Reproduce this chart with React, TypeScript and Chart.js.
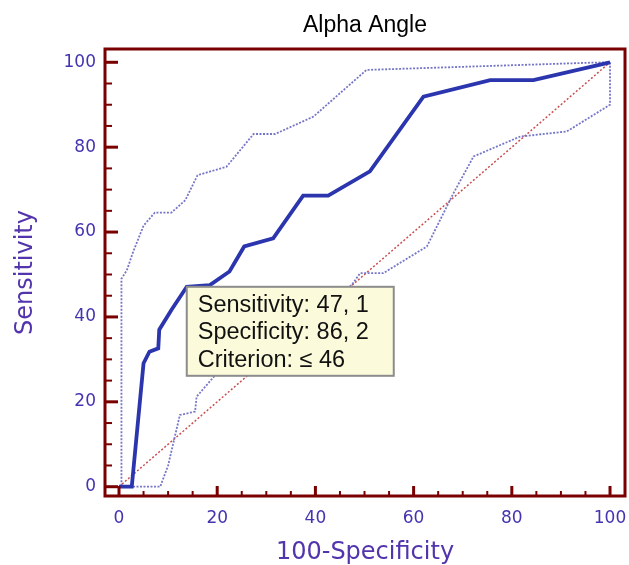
import React, { useEffect, useRef } from 'react';
import { Chart, registerables } from 'chart.js';

Chart.register(...registerables);

const chartTitle = 'Alpha Angle';
const xAxisTitle = '100-Specificity';
const yAxisTitle = 'Sensitivity';
const xTickValues = [0, 20, 40, 60, 80, 100];
const yTickValues = [0, 20, 40, 60, 80, 100];
const minorTickValues = [0, 5, 10, 15, 20, 25, 30, 35, 40, 45, 50, 55, 60, 65, 70, 75, 80, 85, 90, 95, 100];

// ROC curve (x = 100 - specificity, y = sensitivity)
const rocX = [0, 2.6, 5, 6.2, 8, 8.2, 10.7, 13.8, 18.5, 22.5, 25.5, 31.4, 37.5, 42.6, 51.1, 62, 75.6, 84.4, 100];
const rocY = [0, 0, 29.1, 31.8, 32.6, 37, 41.7, 47.1, 47.5, 50.7, 56.6, 58.5, 68.6, 68.6, 74.3, 91.9, 95.8, 95.8, 100];

// upper confidence bound
const upperX = [0, 0.5, 0.5, 1.6, 2.9, 5, 7.3, 10.7, 13.5, 16, 21.9, 27.4, 31.8, 39.6, 50.4, 96, 100];
const upperY = [0, 0, 49, 51, 55.4, 61.5, 64.6, 64.6, 67.5, 73.4, 75.4, 83.1, 83.1, 87.2, 98.2, 99.9, 100];

// lower confidence bound
const lowerX = [0, 8.4, 10, 12.4, 15.5, 15.8, 19.9, 47.4, 49.1, 53.8, 62.7, 68.1, 72.2, 81.7, 91.2, 100, 100];
const lowerY = [0, 0, 5, 16.9, 17.7, 21.2, 26.7, 47.5, 50.3, 50.3, 56.6, 69.1, 77.8, 82.5, 83.7, 90, 100];

// reference diagonal
const diagX = [0, 100];
const diagY = [0, 100];

// criterion box
const criterionX = 13.8;
const criterionY = 47.1;
const boxLines = ['Sensitivity: 47, 1', 'Specificity: 86, 2', 'Criterion: \u2264 46'];

const toPoints = (xs: number[], ys: number[]) => xs.map((x, i) => ({ x, y: ys[i] }));

const FRAME = '#7a0000';
const TICK_LABEL = '#4334b0';
const AXIS_TITLE = '#5234ac';

const rocPlugin = {
  id: 'rocDecor',
  afterDatasetsDraw(chart: any) {
    const { ctx, chartArea: a, scales } = chart;
    const x = scales.x;
    const y = scales.y;
    ctx.save();
    // criterion box
    const bx = x.getPixelForValue(criterionX);
    const by = y.getPixelForValue(criterionY);
    const bw = 207;
    const bh = 89;
    ctx.fillStyle = '#fbfbdc';
    ctx.fillRect(bx, by, bw, bh);
    ctx.strokeStyle = '#8c8c8c';
    ctx.lineWidth = 2;
    ctx.strokeRect(bx, by, bw, bh);
    ctx.fillStyle = '#111111';
    ctx.font = '23.5px "Liberation Sans", Arial, sans-serif';
    ctx.textBaseline = 'alphabetic';
    ctx.textAlign = 'left';
    boxLines.forEach((t, i) => ctx.fillText(t, bx + 11, by + 25 + i * 27.5));

    // frame
    ctx.strokeStyle = FRAME;
    ctx.lineWidth = 3;
    ctx.strokeRect(a.left, a.top, a.right - a.left, a.bottom - a.top);

    // inward tick marks
    ctx.lineCap = 'butt';
    minorTickValues.forEach((v) => {
      const major = v % 20 === 0;
      ctx.lineWidth = major ? 3 : 2;
      const px = x.getPixelForValue(v);
      ctx.beginPath();
      ctx.moveTo(px, a.bottom);
      ctx.lineTo(px, a.bottom - (major ? 10 : 5));
      ctx.stroke();
      const py = y.getPixelForValue(v);
      ctx.beginPath();
      ctx.moveTo(a.left, py);
      ctx.lineTo(a.left + (major ? 13 : 7), py);
      ctx.stroke();
    });
    ctx.restore();
  },
};

export default function App() {
  const canvasRef = useRef<HTMLCanvasElement | null>(null);

  useEffect(() => {
    if (!canvasRef.current) return;
    const chart = new Chart(canvasRef.current, {
      type: 'line',
      data: {
        datasets: [
          {
            label: 'ROC',
            data: toPoints(rocX, rocY),
            borderColor: '#2b35ad',
            borderWidth: 3.8,
            pointRadius: 0,
            tension: 0,
          },
          {
            label: 'Upper',
            data: toPoints(upperX, upperY),
            borderColor: '#7676c8',
            borderWidth: 1.8,
            borderDash: [2, 1.5],
            pointRadius: 0,
            tension: 0,
          },
          {
            label: 'Lower',
            data: toPoints(lowerX, lowerY),
            borderColor: '#7676c8',
            borderWidth: 1.8,
            borderDash: [2, 1.5],
            pointRadius: 0,
            tension: 0,
          },
          {
            label: 'Diagonal',
            data: toPoints(diagX, diagY),
            borderColor: '#c85050',
            borderWidth: 1.5,
            borderDash: [2, 2],
            pointRadius: 0,
            tension: 0,
          },
        ],
      },
      options: {
        animation: false,
        responsive: false,
        devicePixelRatio: 1,
        layout: { autoPadding: false, padding: { left: 0, right: 4, top: 0, bottom: 0 } },
        plugins: {
          legend: { display: false },
          tooltip: { enabled: false },
          title: {
            display: true,
            text: chartTitle,
            fullSize: false,
            color: '#000000',
            font: { family: '"Liberation Sans", Arial, sans-serif', size: 23, weight: 'normal', lineHeight: 1.2 },
            padding: { top: 12, bottom: 9.4 },
          },
        },
        scales: {
          x: {
            type: 'linear',
            min: -2.85,
            max: 103.05,
            afterBuildTicks: (scale: any) => {
              scale.ticks = xTickValues.map((v) => ({ value: v }));
            },
            afterFit: (scale: any) => {
              scale.height = 69;
              scale.paddingLeft = 0;
              scale.paddingRight = 0;
            },
            grid: { display: false, drawTicks: false },
            border: { display: false },
            ticks: {
              autoSkip: false,
              maxRotation: 0,
              padding: 12,
              color: TICK_LABEL,
              font: { family: '"DejaVu Sans", sans-serif', size: 17 },
            },
            title: {
              display: true,
              text: xAxisTitle,
              color: AXIS_TITLE,
              font: { family: '"DejaVu Sans", sans-serif', size: 24, lineHeight: 1.05 },
              padding: { top: 0, bottom: 0 },
            },
          },
          y: {
            type: 'linear',
            min: -2.19,
            max: 103.13,
            afterBuildTicks: (scale: any) => {
              scale.ticks = yTickValues.map((v) => ({ value: v }));
            },
            afterFit: (scale: any) => {
              scale.width = 105;
              scale.paddingTop = 0;
              scale.paddingBottom = 0;
            },
            grid: { display: false, drawTicks: false },
            border: { display: false },
            ticks: {
              autoSkip: false,
              padding: 9,
              color: TICK_LABEL,
              font: { family: '"DejaVu Sans", sans-serif', size: 17 },
            },
            title: {
              display: true,
              text: yAxisTitle,
              color: AXIS_TITLE,
              font: { family: '"DejaVu Sans", sans-serif', size: 24, lineHeight: 1.2 },
              padding: { top: 11, bottom: 0 },
            },
          },
        },
      },
      plugins: [rocPlugin],
    } as any);
    return () => chart.destroy();
  }, []);

  return (
    <div style={{ position: 'absolute', left: 0, top: 0, width: 629, height: 565, background: '#ffffff' }}>
      <canvas ref={canvasRef} width={629} height={565} style={{ display: 'block' }} />
    </div>
  );
}
